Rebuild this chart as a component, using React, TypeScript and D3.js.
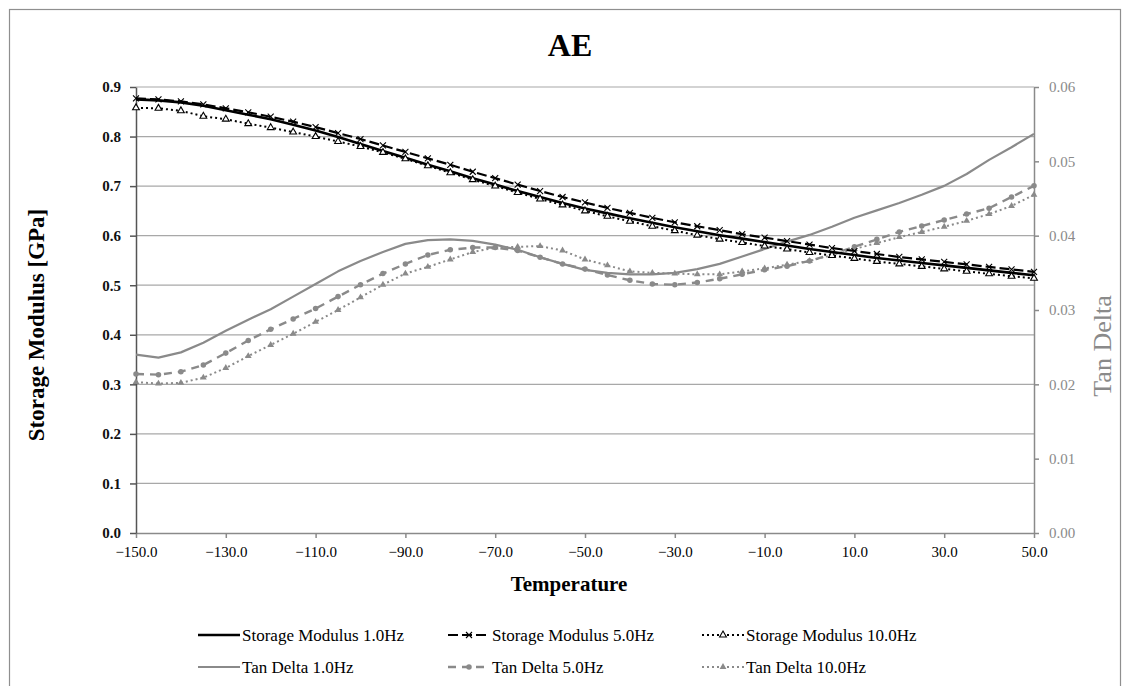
import React, { useEffect, useRef } from 'react';
import * as d3 from 'd3';

// temperature (°C)
const temperatures = [
  -150, -145, -140, -135, -130, -125, -120, -115, -110, -105, -100, -95, -90, -85,
  -80, -75, -70, -65, -60, -55, -50, -45, -40, -35, -30, -25, -20, -15, -10, -5,
  0, 5, 10, 15, 20, 25, 30, 35, 40, 45, 50,
];

// storage modulus [GPa]
const storage1Hz = [
  0.875, 0.873, 0.869, 0.862, 0.853, 0.844, 0.835, 0.824, 0.812, 0.799, 0.785, 0.771, 0.757, 0.743,
  0.730, 0.716, 0.703, 0.690, 0.678, 0.666, 0.655, 0.645, 0.635, 0.626, 0.617, 0.609, 0.601, 0.594, 0.587, 0.580,
  0.573, 0.567, 0.561, 0.555, 0.550, 0.545, 0.540, 0.535, 0.530, 0.525, 0.520,
];
const storage5Hz = [
  0.877, 0.875, 0.871, 0.865, 0.857, 0.849, 0.840, 0.830, 0.819, 0.807, 0.795, 0.782, 0.769, 0.756,
  0.743, 0.729, 0.716, 0.703, 0.690, 0.678, 0.667, 0.656, 0.646, 0.636, 0.627, 0.619, 0.611, 0.603, 0.596, 0.589,
  0.582, 0.575, 0.569, 0.563, 0.557, 0.552, 0.547, 0.542, 0.537, 0.532, 0.527,
];
const storage10Hz = [
  0.858, 0.857, 0.852, 0.841, 0.835, 0.826, 0.818, 0.809, 0.800, 0.790, 0.780, 0.768, 0.755, 0.741,
  0.727, 0.713, 0.700, 0.687, 0.674, 0.662, 0.650, 0.639, 0.629, 0.619, 0.610, 0.601, 0.593, 0.586, 0.579, 0.573,
  0.566, 0.560, 0.554, 0.548, 0.543, 0.538, 0.533, 0.528, 0.523, 0.518, 0.514,
];

// tan delta
const tanDelta1Hz = [
  0.0240, 0.0236, 0.0243, 0.0256, 0.0272, 0.0287, 0.0301, 0.0318, 0.0335, 0.0352, 0.0366, 0.0378, 0.0389, 0.0394,
  0.0395, 0.0393, 0.0388, 0.0381, 0.0371, 0.0362, 0.0354, 0.0350, 0.0348, 0.0348, 0.0350, 0.0355, 0.0362, 0.0372, 0.0382, 0.0392,
  0.0401, 0.0412, 0.0424, 0.0434, 0.0444, 0.0455, 0.0467, 0.0483, 0.0502, 0.0519, 0.0537,
];
const tanDelta5Hz = [
  0.0214, 0.0213, 0.0217, 0.0226, 0.0242, 0.0259, 0.0274, 0.0288, 0.0302, 0.0318, 0.0334, 0.0349, 0.0362, 0.0374,
  0.0381, 0.0384, 0.0384, 0.0380, 0.0371, 0.0362, 0.0355, 0.0347, 0.0340, 0.0335, 0.0334, 0.0337, 0.0342, 0.0348, 0.0354, 0.0359,
  0.0366, 0.0375, 0.0385, 0.0395, 0.0405, 0.0413, 0.0421, 0.0429, 0.0437, 0.0452, 0.0467,
];
const tanDelta10Hz = [
  0.0203, 0.0201, 0.0202, 0.0209, 0.0222, 0.0238, 0.0253, 0.0268, 0.0284, 0.0300, 0.0317, 0.0334, 0.0349, 0.0358,
  0.0368, 0.0378, 0.0384, 0.0385, 0.0386, 0.0380, 0.0368, 0.0360, 0.0352, 0.0350, 0.0349, 0.0348, 0.0348, 0.0352, 0.0356, 0.0361,
  0.0366, 0.0374, 0.0382, 0.0390, 0.0398, 0.0405, 0.0412, 0.0420, 0.0429, 0.0440, 0.0455,
];

const xTicks = [-150, -130, -110, -90, -70, -50, -30, -10, 10, 30, 50];
const leftTicks = [0, 0.1, 0.2, 0.3, 0.4, 0.5, 0.6, 0.7, 0.8, 0.9];
const rightTicks = [0, 0.01, 0.02, 0.03, 0.04, 0.05, 0.06];

const seriesNames = [
  'Storage Modulus 1.0Hz', 'Storage Modulus 5.0Hz', 'Storage Modulus 10.0Hz',
  'Tan Delta 1.0Hz', 'Tan Delta 5.0Hz', 'Tan Delta 10.0Hz',
];

const FONT = '"Liberation Serif", "Times New Roman", serif';
const GRAY = '#8a8a8a';

const App: React.FC = () => {
  const ref = useRef<SVGSVGElement | null>(null);

  useEffect(() => {
    const W = 1125;
    const H = 686;
    const margin = { top: 87, right: 91, bottom: 153, left: 136 };
    const width = W - margin.left - margin.right;
    const height = H - margin.top - margin.bottom;

    const root = d3.select(ref.current);
    root.selectAll('*').remove();

    // outer chart border
    root.append('rect')
      .attr('x', 9.5).attr('y', 9.5)
      .attr('width', 1111).attr('height', 700)
      .attr('fill', 'white').attr('stroke', '#8f8f8f').attr('stroke-width', 1.2);

    root.append('text')
      .attr('x', 570).attr('y', 56)
      .attr('text-anchor', 'middle')
      .style('font-family', FONT).style('font-size', '32px').style('font-weight', 'bold')
      .text('AE');

    const x = d3.scaleLinear().domain([-150, 50]).range([0, width]);
    const yL = d3.scaleLinear().domain([0, 0.9]).range([height, 0]);
    const yR = d3.scaleLinear().domain([0, 0.06]).range([height, 0]);

    const g = root.append('g').attr('transform', `translate(${margin.left},${margin.top})`);

    // gridlines
    g.append('g').selectAll('line')
      .data(leftTicks.slice(1))
      .enter().append('line')
      .attr('x1', 0).attr('x2', width)
      .attr('y1', (d) => yL(d)).attr('y2', (d) => yL(d))
      .attr('stroke', '#a8a8a8').attr('stroke-width', 1.2);

    // axes
    const xAxis = g.append('g')
      .attr('transform', `translate(0,${height})`)
      .call(d3.axisBottom(x).tickValues(xTicks).tickSize(5).tickSizeOuter(0).tickFormat((d) => d3.format('.1f')(d)));
    xAxis.selectAll('text')
      .attr('dy', '1.05em')
      .style('font-family', FONT).style('font-size', '15px').style('fill', 'black');

    const lAxis = g.append('g')
      .call(d3.axisLeft(yL).tickValues(leftTicks).tickSize(6).tickSizeOuter(0).tickPadding(9).tickFormat((d) => d3.format('.1f')(d)));
    lAxis.selectAll('text')
      .style('font-family', FONT).style('font-size', '15px').style('font-weight', 'bold').style('fill', '#111');

    const rAxis = g.append('g')
      .attr('transform', `translate(${width},0)`)
      .call(d3.axisRight(yR).tickValues(rightTicks).tickSize(5).tickSizeOuter(0).tickPadding(10).tickFormat((d) => d3.format('.2f')(d)));
    rAxis.selectAll('text')
      .style('font-family', FONT).style('font-size', '15px').style('fill', GRAY);

    xAxis.selectAll('path, line').attr('stroke', '#8a8a8a').attr('stroke-width', 1.5);
    lAxis.selectAll('path, line').attr('stroke', '#555').attr('stroke-width', 1.5);
    rAxis.selectAll('path, line').attr('stroke', '#8a8a8a').attr('stroke-width', 1.5);

    // axis titles
    root.append('text')
      .attr('x', 569).attr('y', 591)
      .attr('text-anchor', 'middle')
      .style('font-family', FONT).style('font-size', '21px').style('font-weight', 'bold')
      .text('Temperature');
    root.append('text')
      .attr('transform', 'translate(44,325) rotate(-90)')
      .attr('text-anchor', 'middle')
      .style('font-family', FONT).style('font-size', '23px').style('font-weight', 'bold')
      .text('Storage Modulus [GPa]');
    root.append('text')
      .attr('transform', 'translate(1111,346) rotate(-90)')
      .attr('text-anchor', 'middle')
      .style('font-family', FONT).style('font-size', '26px').style('fill', GRAY)
      .text('Tan Delta');

    const xMark = 'M-3,-3L3,3M-3,3L3,-3';
    const tri = d3.symbol().type(d3.symbolTriangle).size(20)();
    const circ = d3.symbol().type(d3.symbolCircle).size(24)();

    const styles = [
      { values: storage1Hz, y: yL, color: 'black', width: 2.6, dash: null, marker: null },
      { values: storage5Hz, y: yL, color: 'black', width: 2.2, dash: '10,4', marker: 'x' },
      { values: storage10Hz, y: yL, color: 'black', width: 2, dash: '2,3', marker: 'triOpen' },
      { values: tanDelta1Hz, y: yR, color: GRAY, width: 2.2, dash: null, marker: null },
      { values: tanDelta5Hz, y: yR, color: GRAY, width: 2.4, dash: '8,6', marker: 'circle' },
      { values: tanDelta10Hz, y: yR, color: GRAY, width: 2, dash: '2,3', marker: 'tri' },
    ];

    const drawMarker = (sel: any, marker: string | null, color: string) => {
      if (marker === 'x') {
        sel.append('path').attr('d', xMark).attr('stroke', color).attr('stroke-width', 1.1).attr('fill', 'none');
      } else if (marker === 'triOpen') {
        sel.append('path').attr('d', tri).attr('stroke', color).attr('stroke-width', 1.1).attr('fill', 'white');
      } else if (marker === 'tri') {
        sel.append('path').attr('d', tri).attr('fill', color);
      } else if (marker === 'circle') {
        sel.append('path').attr('d', circ).attr('fill', color);
      }
    };

    const plot = g.append('g');
    // draw tan delta first, storage modulus on top
    [3, 4, 5, 0, 1, 2].forEach((i) => {
      const s = styles[i];
      const pts = temperatures.map((t, j) => [t, s.values[j]]);
      const line = d3.line().x((d: any) => x(d[0])).y((d: any) => s.y(d[1]));
      plot.append('path')
        .datum(pts)
        .attr('d', line)
        .attr('fill', 'none')
        .attr('stroke', s.color)
        .attr('stroke-width', s.width)
        .attr('stroke-dasharray', s.dash)
        .attr('stroke-linejoin', 'round');
      if (s.marker) {
        const m = plot.append('g').selectAll('g')
          .data(pts)
          .enter().append('g')
          .attr('transform', (d: any) => `translate(${x(d[0])},${s.y(d[1])})`);
        drawMarker(m, s.marker, s.color);
      }
    });

    // legend
    const legCols = [198, 448, 702];
    const legRows = [635, 667];
    seriesNames.forEach((name, i) => {
      const s = styles[i];
      const lx = legCols[i % 3];
      const ly = legRows[Math.floor(i / 3)];
      const lg = root.append('g').attr('transform', `translate(${lx},${ly})`);
      lg.append('line')
        .attr('x1', 0).attr('x2', 42).attr('y1', 0).attr('y2', 0)
        .attr('stroke', s.color).attr('stroke-width', s.width)
        .attr('stroke-dasharray', s.dash);
      const mk = lg.append('g').attr('transform', 'translate(21,0)');
      drawMarker(mk, s.marker, s.color);
      lg.append('text')
        .attr('x', 44).attr('y', 0).attr('dy', '0.33em')
        .style('font-family', FONT).style('font-size', '17px')
        .text(name);
    });
  }, []);

  return (
    <svg
      ref={ref}
      width={1125}
      height={686}
      style={{ position: 'absolute', left: 0, top: 0, background: 'white' }}
    />
  );
};

export default App;
